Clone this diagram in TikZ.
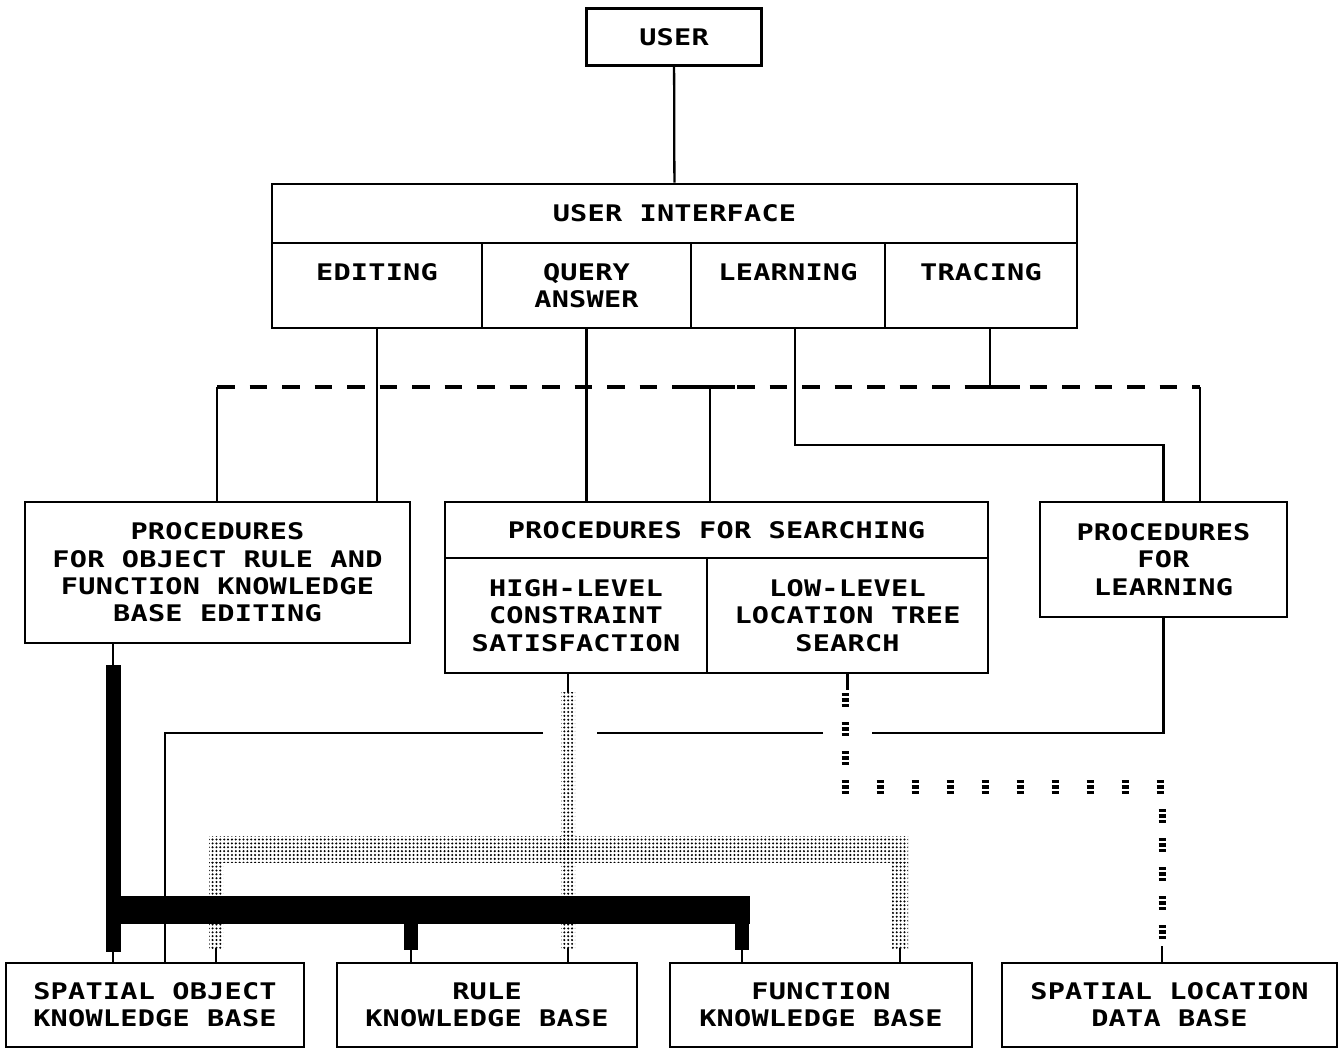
\documentclass[tikz,border=0pt]{standalone}
\usepackage{fontspec}
\newfontfamily\boxfamily[FakeStretch=1.25,LetterSpace=1]{DejaVu Sans Mono}
\usetikzlibrary{calc,patterns.meta}

\tikzset{
  box/.style={draw, line width=1.5pt, inner sep=0pt, align=center,
    font=\boxfamily\bfseries\fontsize{13}{15.5}\selectfont},
  link/.style={line width=1.3pt},
  dashlink/.style={line width=2.2pt, dash pattern=on 10pt off 8.5pt},
  stipple/.style={pattern={Dots[distance=2.2pt,radius=0.65pt]}},
  eqmark/.pic={\draw[line width=1.8pt] (-3.5,-5.5) -- (3.5,-5.5) (-3.5,0) -- (3.5,0) (-3.5,5.5) -- (3.5,5.5);}
}

\begin{document}
\begin{tikzpicture}[x=0.02cm,y=-0.02cm]
  \useasboundingbox (0,0) rectangle (1343,1056);

  \node[box, minimum width=3.5cm, minimum height=1.14cm] (user) at (674,37) {USER};

  % user interface and its four parts
  \node[box, minimum width=16.1cm, minimum height=1.18cm] (ui) at (674.5,213.5) {USER INTERFACE};
  \node[box, minimum width=4.2cm, minimum height=1.7cm] (uiEdit) at (377,285.5) {EDITING\\\mbox{}};
  \node[box, minimum width=4.18cm, minimum height=1.7cm] (uiQuery) at (586.5,285.5) {QUERY\\ANSWER};
  \node[box, minimum width=3.88cm, minimum height=1.7cm] (uiLearn) at (788,285.5) {LEARNING\\\mbox{}};
  \node[box, minimum width=3.84cm, minimum height=1.7cm] (uiTrace) at (981,285.5) {TRACING\\\mbox{}};

  % procedures
  \node[box, minimum width=7.7cm, minimum height=2.82cm] (procEdit) at (217.5,572.5)
    {PROCEDURES\\FOR OBJECT RULE AND\\FUNCTION KNOWLEDGE\\BASE EDITING};
  \node[box, minimum width=10.86cm, minimum height=1.12cm] (procSearch) at (716.5,530) {PROCEDURES FOR SEARCHING};
  \node[box, minimum width=5.24cm, minimum height=2.3cm] (searchHigh) at (576,615.5)
    {HIGH-LEVEL\\CONSTRAINT\\SATISFACTION};
  \node[box, minimum width=5.62cm, minimum height=2.3cm] (searchLow) at (847.5,615.5)
    {LOW-LEVEL\\LOCATION TREE\\SEARCH};
  \node[box, minimum width=4.94cm, minimum height=2.3cm] (procLearn) at (1163.5,559.5)
    {PROCEDURES\\FOR\\LEARNING};

  % knowledge bases
  \node[box, minimum width=5.96cm, minimum height=1.68cm] (kbObject) at (155,1005) {SPATIAL OBJECT\\KNOWLEDGE BASE};
  \node[box, minimum width=6cm, minimum height=1.68cm] (kbRule) at (487,1005) {RULE\\KNOWLEDGE BASE};
  \node[box, minimum width=6.04cm, minimum height=1.68cm] (kbFunc) at (821,1005) {FUNCTION\\KNOWLEDGE BASE};
  \node[box, minimum width=6.7cm, minimum height=1.68cm] (dbLocation) at (1169.5,1005) {SPATIAL LOCATION\\DATA BASE};

  \coordinate (learnKnee) at (795,445);
  \coordinate (traceJoin) at (990,387);
  \coordinate (queryJoin) at (710,387);
  \coordinate (dashL) at (217,387);
  \coordinate (dashR) at (1200,387);

  \draw[link] (user) -- (ui);
  \draw[link] (uiEdit) -- (uiEdit |- procEdit.north);
  \draw[link] (uiQuery) -- (uiQuery |- procSearch.north);
  \draw[link] (uiLearn.south -| learnKnee) -- (learnKnee) -| (procLearn.north);
  \draw[link] (uiTrace.south -| traceJoin) -- (traceJoin);

  % dashed link over the procedures
  \draw[link] (procEdit.north -| dashL) -- (dashL);
  \draw[dashlink] (dashL) -- (dashR);
  \draw[link] (dashR) -- (dashR |- procLearn.north);
  \draw[link] (queryJoin) -- (queryJoin |- procSearch.north);
  \draw[line width=2.2pt] (queryJoin) ++(-22,0) -- ++(47,0);
  \draw[line width=2.2pt] (traceJoin) ++(-25,0) -- ++(55,0);

  % return line from learning, broken where it crosses
  \coordinate (retR) at (872,733);
  \coordinate (retM1) at (823,733);
  \coordinate (retM2) at (597,733);
  \coordinate (retL) at (543,733);
  \coordinate (retX) at (165,733);
  \draw[link] (procLearn) |- (retR);
  \draw[link] (retM1) -- (retM2);
  \draw[link] (retL) -| (kbObject.north -| retX);

  % stippled bus
  \coordinate (dotTop) at (568,692);
  \coordinate (dotLeg1) at (216,948);
  \coordinate (dotLeg2) at (568,948);
  \coordinate (dotLeg3) at (900,948);
  \draw[link] (searchHigh.south -| dotTop) -- (dotTop);
  \fill[stipple] (561,692) rectangle (575,948);
  \fill[stipple] (209,836) rectangle (908,862);
  \fill[stipple] (209,862) rectangle (223,948);
  \fill[stipple] (892,862) rectangle (908,948);
  \draw[link] (dotLeg1) -- (dotLeg1 |- kbObject.north);
  \draw[link] (dotLeg2) -- (dotLeg2 |- kbRule.north);
  \draw[link] (dotLeg3) -- (dotLeg3 |- kbFunc.north);

  % black bus
  \coordinate (busTop) at (113,665);
  \coordinate (busLeg1) at (113,950);
  \coordinate (busLeg2) at (411,950);
  \coordinate (busLeg3) at (742,950);
  \draw[link] (procEdit.south -| busTop) -- (busTop);
  \fill (106,665) rectangle (121,952);
  \fill (106,896) rectangle (750,924);
  \fill (404,918) rectangle (418,950);
  \fill (735,918) rectangle (749,950);
  \draw[link] (busLeg1) -- (busLeg1 |- kbObject.north);
  \draw[link] (busLeg2) -- (busLeg2 |- kbRule.north);
  \draw[link] (busLeg3) -- (busLeg3 |- kbFunc.north);

  % chain of marks to the location data base
  \coordinate (eqTop) at (847.5,690);
  \coordinate (eqEnd) at (1162,946);
  \draw[link] (searchLow.south) -- (eqTop);
  \foreach \y in {700,729,758}
    \pic at (845,\y) {eqmark};
  \foreach \x in {845,880,...,1160}
    \pic at (\x,787) {eqmark};
  \foreach \y in {816,845,874,903,932}
    \pic at (1162,\y) {eqmark};
  \draw[link] (eqEnd) -- (eqEnd |- dbLocation.north);
\end{tikzpicture}
\end{document}
